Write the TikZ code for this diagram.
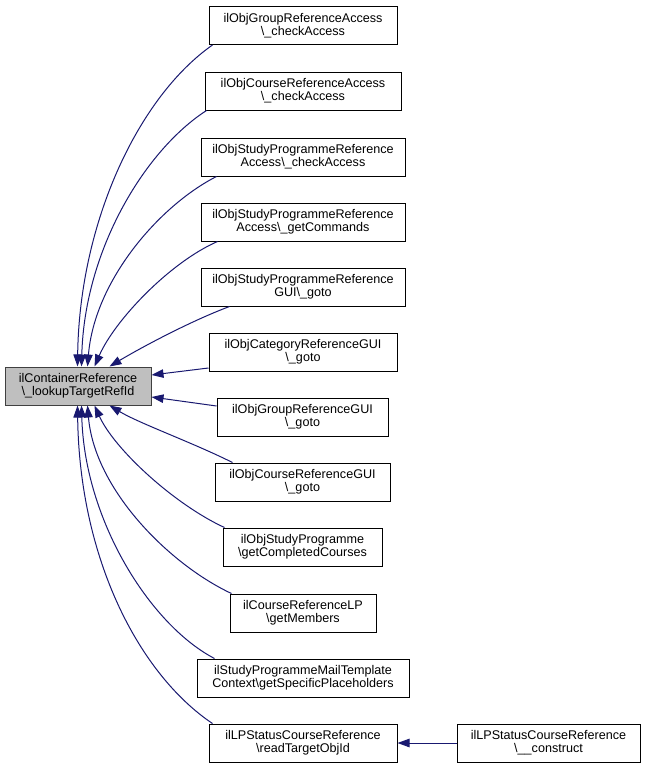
\documentclass[tikz,border=0pt]{standalone}
\usepackage{fontspec}
\setmainfont{Liberation Sans}
\usetikzlibrary{arrows.meta}
\definecolor{edgeblue}{HTML}{191970}
\definecolor{boxgray}{HTML}{BFBFBF}

\begin{document}
\begin{tikzpicture}[
		x=1pt, y=-1pt,
		func/.style={rectangle,draw=black,fill=white,line width=1pt,
		inner sep=0pt,minimum height=38pt,align=center,
		font=\fontsize{12.6}{13}\selectfont},
		target/.style={func,fill=boxgray,draw=black!75},
		call/.style={>={Triangle[length=12pt,width=8.5pt]},draw=edgeblue,line width=1pt,->}
		]
		\useasboundingbox (0,0) rectangle (647,771);
		\node[target,minimum width=146pt] (tgt) at (78,386) {ilContainerReference\\\textbackslash\_lookupTargetRefId};
		\node[func,minimum width=188pt] (c1) at (303,25.5) {ilObjGroupReferenceAccess\\\textbackslash\_checkAccess};
		\node[func,minimum width=196pt] (c2) at (303,91) {ilObjCourseReferenceAccess\\\textbackslash\_checkAccess};
		\node[func,minimum width=204pt] (c3) at (303,157) {ilObjStudyProgrammeReference\\Access\textbackslash\_checkAccess};
		\node[func,minimum width=204pt] (c4) at (303,222) {ilObjStudyProgrammeReference\\Access\textbackslash\_getCommands};
		\node[func,minimum width=204pt] (c5) at (303,287) {ilObjStudyProgrammeReference\\GUI\textbackslash\_goto};
		\node[func,minimum width=188pt] (c6) at (303,352) {ilObjCategoryReferenceGUI\\\textbackslash\_goto};
		\node[func,minimum width=171pt] (c7) at (302.5,417) {ilObjGroupReferenceGUI\\\textbackslash\_goto};
		\node[func,minimum width=175pt] (c8) at (302.5,482) {ilObjCourseReferenceGUI\\\textbackslash\_goto};
		\node[func,minimum width=159pt] (c9) at (302.5,547) {ilObjStudyProgramme\\\textbackslash getCompletedCourses};
		\node[func,minimum width=146pt] (c10) at (303,613) {ilCourseReferenceLP\\\textbackslash getMembers};
		\node[func,minimum width=212pt] (c11) at (303,678) {ilStudyProgrammeMailTemplate\\Context\textbackslash getSpecificPlaceholders};
		\node[func,minimum width=188pt] (c12) at (303,743) {ilLPStatusCourseReference\\\textbackslash readTargetObjId};
		\node[func,minimum width=183pt] (ctor) at (548.5,743) {ilLPStatusCourseReference\\\textbackslash\_\_construct};
		% callers above
		\draw[call] ([xshift=4pt]c1.south west) .. controls +(-73,51) and +(2,-146) .. ([xshift=73pt]tgt.north west);
		\draw[call] ([xshift=2pt]c2.south west) .. controls +(-62,40) and +(3,-116) .. ([xshift=77pt]tgt.north west);
		\draw[call] ([xshift=16pt]c3.south west) .. controls +(-57,29) and +(7,-86) .. ([xshift=83pt]tgt.north west);
		\draw[call] ([xshift=17pt]c4.south west) .. controls +(-48,21) and +(20,-46) .. ([xshift=90pt]tgt.north west);
		\draw[call] ([xshift=29pt]c5.south west) .. controls +(-40,15) and +(30,-18) .. ([xshift=105pt]tgt.north west);
		\draw[call] ([yshift=-16pt]c6.west) -- ([yshift=11pt]tgt.east);
		\draw[call] ([yshift=11pt]c7.west) -- ([yshift=-11pt]tgt.east);
		% callers below
		\draw[call] ([xshift=18pt]c8.north west) .. controls +(-40,-20) and +(30,18) .. ([xshift=105pt]tgt.south west);
		\draw[call] ([xshift=2pt]c9.north west) .. controls +(-50,-23) and +(20,44) .. ([xshift=90pt]tgt.south west);
		\draw[call] ([xshift=2pt]c10.north west) .. controls +(-62,-29) and +(7,84) .. ([xshift=83pt]tgt.south west);
		\draw[call] ([xshift=18pt]c11.north west) .. controls +(-65,-34) and +(3,114) .. ([xshift=77pt]tgt.south west);
		\draw[call] ([xshift=4pt]c12.north west) .. controls +(-73,-49) and +(2,154) .. ([xshift=73pt]tgt.south west);
		\draw[call] (ctor.west) -- (c12.east);
	\end{tikzpicture}
\end{document}
